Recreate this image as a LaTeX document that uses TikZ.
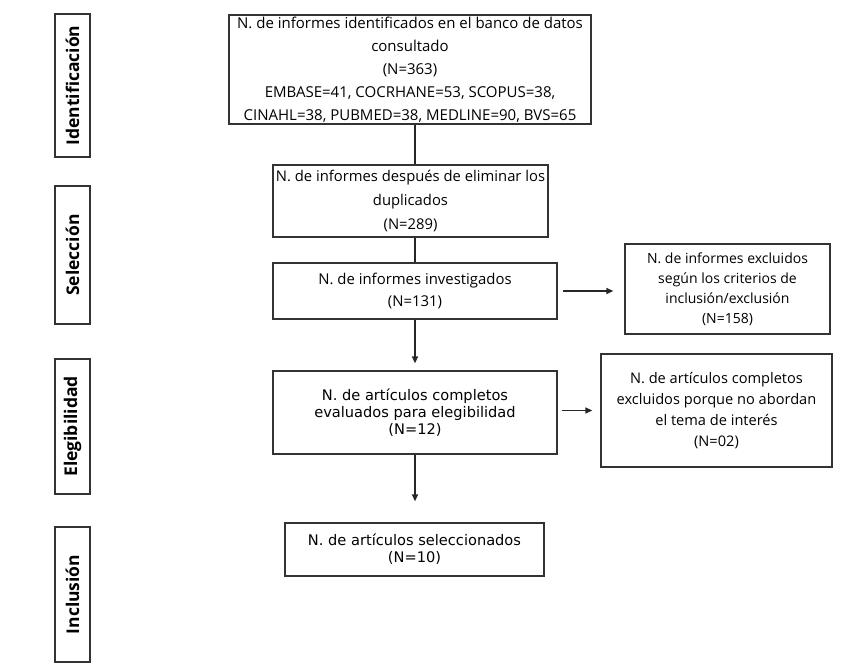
\documentclass[tikz,border=0pt]{standalone}
\usepackage{fontspec}
\setmainfont{Open Sans}
\newfontfamily\verd{DejaVu Sans}
\usetikzlibrary{arrows.meta}
\begin{document}
\begin{tikzpicture}[x=1pt,y=-1pt,
  box/.style={draw=black!80, line width=1.3pt, align=center, inner sep=0pt, text=black},
  side/.style={draw=black!80, line width=1.3pt, rotate=90, font=\fontsize{17.5}{19}\selectfont\bfseries, minimum height=35pt, inner sep=0pt},
  conn/.style={line width=1.3pt, draw=black!85},
  arr/.style={conn, -{Triangle[length=7pt,width=6pt]}}]
\useasboundingbox (0,0) rectangle (851,664);
\node[side, minimum width=143pt] (s1) at (72.5,85.5) {Identificación};
\node[side, minimum width=138pt] (s2) at (72.5,255) {Selección};
\node[side, minimum width=135pt] (s3) at (72.5,426.5) {Elegibilidad};
\node[side, minimum width=135pt] (s4) at (72.5,594.5) {Inclusión};

\node[box, minimum width=362pt, minimum height=109pt, font=\fontsize{15}{23}\selectfont] (b1) at (410,69.5)
  {N. de informes identificados en el banco de datos\\ consultado\\ (N=363)\\ EMBASE=41, COCRHANE=53, SCOPUS=38,\\ CINAHL=38, PUBMED=38, MEDLINE=90, BVS=65};
\node[box, minimum width=275pt, minimum height=72pt, font=\fontsize{14.8}{24}\selectfont] (b2) at (410.5,201)
  {N. de informes después de eliminar los\\ duplicados\\ (N=289)};
\node[box, minimum width=284pt, minimum height=56pt, font=\fontsize{14.9}{22}\selectfont] (b3) at (415,291)
  {N. de informes investigados\\ (N=131)};
\node[box, minimum width=284pt, minimum height=83pt, font=\verd\fontsize{14.6}{17}\selectfont] (b4) at (415,412.5)
  {N. de artículos completos\\ evaluados para elegibilidad\\ (N=12)};
\node[box, minimum width=259pt, minimum height=53pt, font=\verd\fontsize{14.6}{17}\selectfont] (b5) at (414.5,549.5)
  {N. de artículos seleccionados\\ (N=10)};
\node[box, minimum width=205pt, minimum height=90pt, font=\fontsize{14}{20}\selectfont] (r1) at (727.5,289)
  {N. de informes excluidos\\ según los criterios de\\ inclusión/exclusión\\ (N=158)};
\node[box, minimum width=231pt, minimum height=113pt, font=\fontsize{14.6}{21}\selectfont] (r2) at (716.5,410.5)
  {N. de artículos completos\\ excluidos porque no abordan\\ el tema de interés\\ (N=02)};

\draw[conn] (b1.south -| b3) -- (b2.north -| b3);
\draw[conn] (b2.south -| b3) -- (b3.north);
\draw[arr, shorten >=7pt] (b3.south) -- (b4.north);
\draw[arr, shorten >=21pt] (b4.south) -- (b4.south |- b5.north);
\draw[arr, shorten <=5pt, shorten >=11pt] (b3.east) -- (b3.east -| r1.west);
\draw[arr, shorten <=4pt, shorten >=8pt] (r2.west -| b4.east) -- (r2.west);
\end{tikzpicture}
\end{document}
